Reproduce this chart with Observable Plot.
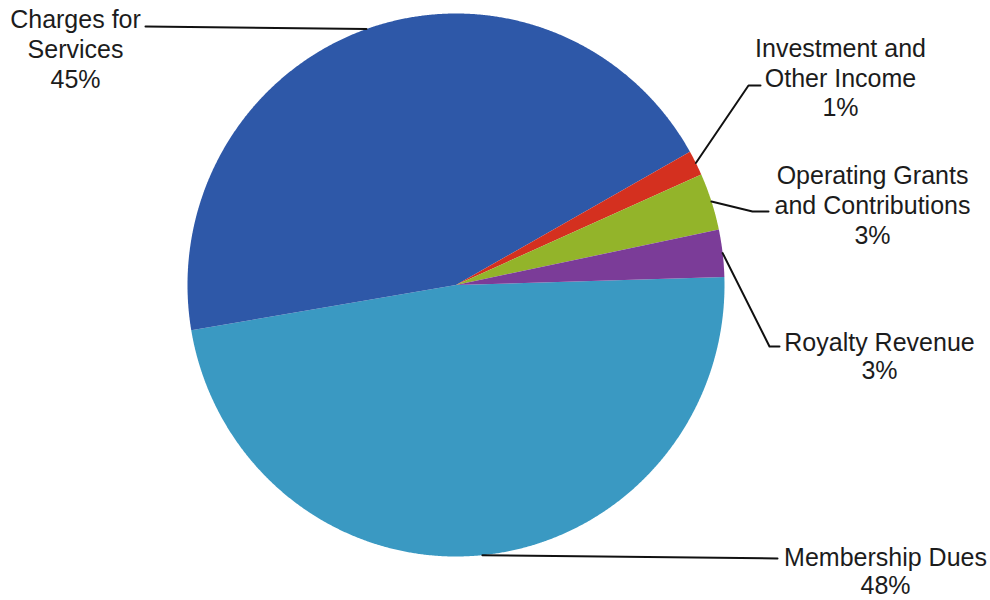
<!DOCTYPE html>
<html><head><meta charset="utf-8">
<script src="https://cdn.jsdelivr.net/npm/d3@7"></script>
<script src="https://cdn.jsdelivr.net/npm/@observablehq/plot@0.6"></script>
<style>body{margin:0;background:#fff} #chart svg{display:block}</style>
</head><body><div id="chart"></div>
<script>
// ---- data ----
const categories = ["Membership Dues", "Charges for Services", "Investment and Other Income", "Operating Grants and Contributions", "Royalty Revenue"];
const shares = [47.81, 44.5, 1.49, 3.4, 2.8];
const percentLabels = ["48%", "45%", "1%", "3%", "3%"];
const labelLines = [["Membership Dues"], ["Charges for", "Services"], ["Investment and", "Other Income"], ["Operating Grants", "and Contributions"], ["Royalty Revenue"]];

// ---- style / layout ----
const sliceColors = ["#3a99c2", "#2e58a8", "#d4301f", "#93b42a", "#7b3c98"];
const W = 990, H = 600, cx = 455.5, cy = 284.5, rx = 268.5, ry = 271.5;
const startAngle = 88.3 * Math.PI / 180;
// label placement in pixels: leader elbow, leader end, text centre, line baselines
const layout = [
  {elbow: [777, 558], end: [777, 558], tx: 885, base: [565, 593]},
  {elbow: [145, 26], end: [145, 26], tx: 75, base: [27, 57, 87]},
  {elbow: [748, 85], end: [760, 85], tx: 840, base: [56, 86, 115]},
  {elbow: [752, 211], end: [768, 211], tx: 872, base: [183, 213, 243]},
  {elbow: [769, 346], end: [779, 346], tx: 879, base: [350, 378]}
];
const X = px => (px - cx) / rx, Y = py => (cy - py) / ry;

const rows = categories.map((name, i) => ({name, share: shares[i], i}));
const arcs = d3.pie().sort(null).value(d => d.share).startAngle(startAngle).endAngle(startAngle + 2 * Math.PI)(rows);

const slicePts = [];
const leaderPts = [];
const textRows = [];
for (const a of arcs) {
  const name = a.data.name, i = a.data.i;
  slicePts.push({name, x: 0, y: 0});
  const n = Math.max(2, Math.ceil((a.endAngle - a.startAngle) / (0.25 * Math.PI / 180)));
  for (let k = 0; k <= n; ++k) {
    const t = a.startAngle + (a.endAngle - a.startAngle) * k / n;
    slicePts.push({name, x: Math.sin(t), y: Math.cos(t)});
  }
  const m = (a.startAngle + a.endAngle) / 2;
  const L = layout[i];
  leaderPts.push({name, x: Math.sin(m), y: Math.cos(m)});
  leaderPts.push({name, x: X(L.elbow[0]), y: Y(L.elbow[1])});
  leaderPts.push({name, x: X(L.end[0]), y: Y(L.end[1])});
  const lines = [...labelLines[i], percentLabels[i]];
  lines.forEach((s, j) => textRows.push({text: s, x: X(L.tx), y: Y(L.base[j])}));
}

const chart = Plot.plot({
  width: W, height: H,
  marginLeft: cx - rx, marginRight: W - (cx + rx),
  marginTop: cy - ry, marginBottom: H - (cy + ry),
  x: {domain: [-1, 1], axis: null},
  y: {domain: [-1, 1], axis: null},
  color: {domain: categories, range: sliceColors},
  style: {fontFamily: "'Liberation Sans', Arial, sans-serif", background: "#fff", overflow: "visible"},
  marks: [
    Plot.line(slicePts, {x: "x", y: "y", z: "name", fill: "name", stroke: "none", curve: "linear"}),
    Plot.line(leaderPts, {x: "x", y: "y", z: "name", stroke: "#111", strokeWidth: 2, curve: "linear"}),
    Plot.text(textRows, {x: "x", y: "y", text: "text", textAnchor: "middle", lineAnchor: "bottom", fontSize: 25, fill: "#1c1c1c"})
  ]
});
document.getElementById("chart").appendChild(chart);
</script>
</body></html>
